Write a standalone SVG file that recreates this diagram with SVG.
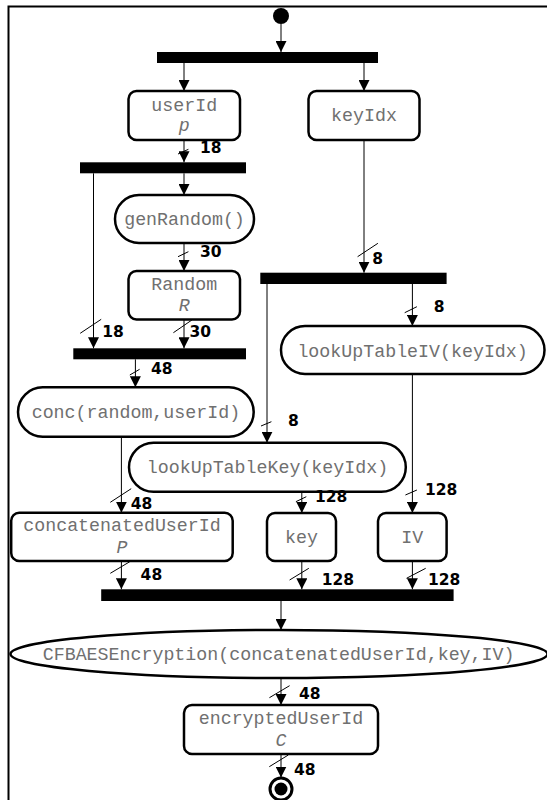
<svg xmlns="http://www.w3.org/2000/svg" width="547" height="800" viewBox="0 0 547 800">
<defs>
<marker id="ah" markerWidth="12" markerHeight="11" refX="11" refY="5.5" orient="auto" markerUnits="userSpaceOnUse">
<path d="M0,0 L11,5.5 L0,11 Z" fill="#000"/>
</marker>
</defs>
<style>
.frame{fill:none;stroke:#000;stroke-width:2}
.box{fill:#fff;stroke:#000;stroke-width:2.5}
.bar{fill:#000}
.t{font-family:"Liberation Mono","DejaVu Sans Mono",monospace;font-size:18.3px;fill:#707070;text-anchor:middle}
.ti{font-style:italic}
.c{stroke:#000;stroke-width:1;fill:none;marker-end:url(#ah)}
.s{stroke:#000;stroke-width:1;fill:none}
.l{font-family:"DejaVu Sans",sans-serif;font-weight:bold;font-size:15.5px;fill:#000}
</style>
<rect width="547" height="800" fill="#fff"/>
<path class="frame" d="M8.5,800 V6.5 H547"/>

<g id="start"><circle cx="281" cy="16" r="8" fill="#000"/></g>
<g id="fork1"><rect class="bar" x="157" y="52" width="221" height="11"/></g>
<g id="userId"><rect class="box" x="128.5" y="91" width="111.5" height="49" rx="8"/>
<text class="t" x="184.2" y="110.5">userId</text><text class="t ti" x="184.2" y="130.5">p</text></g>
<g id="keyIdx"><rect class="box" x="308.5" y="91" width="111" height="49" rx="8"/>
<text class="t" x="364" y="121">keyIdx</text></g>
<g id="fork2"><rect class="bar" x="80" y="162.3" width="166" height="11"/></g>
<g id="genRandom"><rect class="box" x="115" y="195" width="139" height="48" rx="24"/>
<text class="t" x="184.5" y="225">genRandom()</text></g>
<g id="Random"><rect class="box" x="128.5" y="271" width="111.5" height="48.5" rx="8"/>
<text class="t" x="184.2" y="290">Random</text><text class="t ti" x="184.2" y="310.7">R</text></g>
<g id="fork4"><rect class="bar" x="260.3" y="272.7" width="186.3" height="11.3"/></g>
<g id="join3"><rect class="bar" x="73.3" y="348.3" width="172.7" height="11"/></g>
<g id="lookUpTableIV"><rect class="box" x="281" y="326" width="263.5" height="48" rx="24"/>
<text class="t" x="412.6" y="357">lookUpTableIV(keyIdx)</text></g>
<g id="conc"><rect class="box" x="18" y="387.3" width="235.7" height="49.4" rx="24.7"/>
<text class="t" x="135.9" y="418.3">conc(random,userId)</text></g>
<g id="lookUpTableKey"><rect class="box" x="129" y="442.7" width="276.8" height="49" rx="24.5"/>
<text class="t" x="267.5" y="473.3">lookUpTableKey(keyIdx)</text></g>
<g id="concatenatedUserId"><rect class="box" x="11.2" y="512.7" width="221.5" height="48.3" rx="8"/>
<text class="t" x="122" y="530.7">concatenatedUserId</text><text class="t ti" x="122" y="552.7">P</text></g>
<g id="key"><rect class="box" x="267" y="513" width="69" height="48" rx="8"/>
<text class="t" x="301.5" y="542.7">key</text></g>
<g id="IV"><rect class="box" x="378" y="513" width="68.6" height="48" rx="8"/>
<text class="t" x="412.3" y="542.7">IV</text></g>
<g id="join5"><rect class="bar" x="101.2" y="589.3" width="352.4" height="11.7"/></g>
<g id="CFBAESEncryption"><ellipse class="box" cx="279" cy="654" rx="268.5" ry="24"/>
<text class="t" x="278.6" y="660">CFBAESEncryption(concatenatedUserId,key,IV)</text></g>
<g id="encryptedUserId"><rect class="box" x="184" y="705" width="194" height="49" rx="8"/>
<text class="t" x="281" y="724.3">encryptedUserId</text><text class="t ti" x="281" y="746">C</text></g>
<g id="end"><circle cx="281" cy="789" r="11" fill="#fff" stroke="#000" stroke-width="3"/><circle cx="281" cy="789" r="6.5" fill="#000"/></g>

<g id="connectors">
<path class="c" d="M281,24 V52"/>
<path class="c" d="M184,63 V91"/>
<path class="c" d="M364,63 V91"/>
<path class="c" d="M184,140 V162.3"/>
<path class="c" d="M184,173.3 V195"/>
<path class="c" d="M93.5,173.3 V348.3"/>
<path class="c" d="M184,243 V271"/>
<path class="c" d="M184,319.5 V348.3"/>
<path class="c" d="M364,140 V272.7"/>
<path class="c" d="M412.4,284 V326"/>
<path class="c" d="M267,284 V442.7"/>
<path class="c" d="M135.4,359.3 V387.3"/>
<path class="c" d="M121.4,436.7 V512.7"/>
<path class="c" d="M301.8,491.7 V513"/>
<path class="c" d="M412.4,374 V513"/>
<path class="c" d="M121.4,561 V589.3"/>
<path class="c" d="M301.8,561 V589.3"/>
<path class="c" d="M412.4,561 V589.3"/>
<path class="c" d="M281,601 V630"/>
<path class="c" d="M281,678 V705"/>
<path class="c" d="M281,754 V777.5"/>
<path class="s" d="M178,154 L188.4,149.3"/>
<path class="s" d="M178,256.7 L188.4,251.7"/>
<path class="s" d="M357.6,256.7 L377.9,243.3"/>
<path class="s" d="M80.2,333.3 L101.2,319.3"/>
<path class="s" d="M173.4,332.7 L191.9,320"/>
<path class="s" d="M404.7,312.7 L416.9,306.7"/>
<path class="s" d="M129.8,375 L139.6,369.3"/>
<path class="s" d="M261,426 L271.4,421.7"/>
<path class="s" d="M110.3,502.3 L131.2,488.7"/>
<path class="s" d="M295.9,501.7 L306.3,496.7"/>
<path class="s" d="M405.4,495 L416.9,490"/>
<path class="s" d="M110.3,573.3 L129.8,561.7"/>
<path class="s" d="M289.6,580 L308.8,568.3"/>
<path class="s" d="M406.5,578.3 L425.7,568.3"/>
<path class="s" d="M269.4,697.7 L289.6,685.7"/>
<path class="s" d="M269.3,766.7 L288.3,755"/>
<text class="l" x="200" y="153">18</text>
<text class="l" x="200" y="256.5">30</text>
<text class="l" x="372.3" y="264">8</text>
<text class="l" x="102.2" y="337">18</text>
<text class="l" x="189.5" y="337">30</text>
<text class="l" x="433.7" y="311.7">8</text>
<text class="l" x="151" y="374">48</text>
<text class="l" x="287.9" y="426">8</text>
<text class="l" x="130.8" y="509">48</text>
<text class="l" x="315" y="502">128</text>
<text class="l" x="425" y="495">128</text>
<text class="l" x="140.6" y="580">48</text>
<text class="l" x="321.7" y="585">128</text>
<text class="l" x="428" y="585">128</text>
<text class="l" x="299" y="699">48</text>
<text class="l" x="294" y="775">48</text>
</g>
</svg>
